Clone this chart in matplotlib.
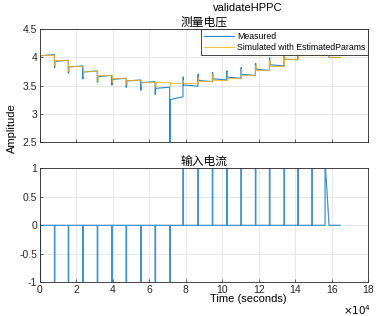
import matplotlib
matplotlib.use("Agg")
import matplotlib.pyplot as plt
import numpy as np

plt.rcParams['font.family'] = ['Liberation Sans', 'Noto Sans CJK SC']
plt.rcParams['font.size'] = 7.5

# pulse times (x 1e4 s) and current amplitude
pulse_t = [0, 0.79, 1.55, 2.34, 3.14, 3.93, 4.72, 5.52, 6.31, 7.11,
           7.84, 8.66, 9.45, 10.24, 11.02, 11.81, 12.58, 13.38, 14.13, 14.91, 15.63]
pulse_i = [-1] * 10 + [1] * 11

# measured voltage: value at end of pulse, level just after, level before next pulse
meas_peak = [3.93, 3.82, 3.72, 3.62, 3.56, 3.51, 3.47, 3.42, 3.34, 2.50,
             3.65, 3.70, 3.73, 3.76, 3.82, 3.89, 3.99, 4.05, 4.12, 4.12, 4.12]
meas_start = [4.03, 3.93, 3.83, 3.74, 3.66, 3.61, 3.58, 3.55, 3.45, 3.25,
              3.51, 3.59, 3.62, 3.65, 3.70, 3.79, 3.87, 3.97, 4.07, 4.07, 4.07]
meas_end = [4.05, 3.95, 3.85, 3.76, 3.68, 3.63, 3.60, 3.57, 3.47, 3.30,
            3.49, 3.57, 3.60, 3.63, 3.68, 3.77, 3.85, 3.96, 4.05, 4.05, 4.05]

# simulated voltage
sim_peak = [3.96, 3.86, 3.76, 3.67, 3.60, 3.56, 3.53, 3.49, 3.50, 3.50,
            3.60, 3.66, 3.70, 3.74, 3.79, 3.86, 3.95, 4.02, 4.10, 4.10, 4.10]
sim_level = [4.05, 3.95, 3.85, 3.76, 3.68, 3.63, 3.60, 3.57, 3.56, 3.55,
             3.55, 3.58, 3.60, 3.63, 3.68, 3.77, 3.85, 3.97, 4.05, 4.05, 4.05]

ramp_end_t = 15.85
end_t = 16.45
final_v = 4.0
pulse_w = 0.025


def voltage_path(peak, start, end):
    t, v = [], []
    for k, tp in enumerate(pulse_t):
        nxt = pulse_t[k + 1] if k + 1 < len(pulse_t) else ramp_end_t
        if k > 0:
            t.append(tp)
            v.append(end[k - 1])
        t += [tp, tp + pulse_w, tp + pulse_w, nxt]
        v += [peak[k], peak[k], start[k], end[k]]
    t += [ramp_end_t, end_t]
    v += [final_v, final_v]
    return np.array(t), np.array(v)


def current_path():
    t, i = [], []
    for k, tp in enumerate(pulse_t):
        if k == len(pulse_t) - 1:
            t += [tp, tp, tp + pulse_w, ramp_end_t, end_t]
            i += [0, pulse_i[k], pulse_i[k], 0, 0]
        else:
            t += [tp, tp, tp + pulse_w, tp + pulse_w]
            i += [0, pulse_i[k], pulse_i[k], 0]
    return np.array(t), np.array(i)


tm, vm = voltage_path(meas_peak, meas_start, meas_end)
ts, vs = voltage_path(sim_peak, sim_level, sim_level)
tc, ic = current_path()

blue = '#0072BD'
orange = '#EDB120'

fig = plt.figure(figsize=(3.82, 3.16), dpi=100)
ax1 = fig.add_axes([0.1047, 0.5516, 0.8594, 0.3554])
ax2 = fig.add_axes([0.1047, 0.1066, 0.8594, 0.3608])

ax1.plot(tm, vm, color=blue, lw=0.8, alpha=0.85, label='Measured')
ax1.plot(ts, vs, color=orange, lw=0.8, alpha=0.8, label='Simulated with EstimatedParams')
ax1.set_ylim(2.5, 4.5)
ax1.set_yticks([2.5, 3, 3.5, 4, 4.5])
ax1.set_yticklabels(['2.5', '3', '3.5', '4', '4.5'])
ax1.set_title('测量电压', fontsize=8.5, pad=2.5)
leg = ax1.legend(loc='upper right', fontsize=6.3, fancybox=False, framealpha=1,
                 edgecolor='#262626', borderaxespad=0, handlelength=3.4,
                 borderpad=0.3, labelspacing=0.25, handletextpad=0.4)
leg.get_frame().set_linewidth(0.6)

ax2.plot(tc, ic, color=blue, lw=0.9, alpha=0.75)
ax2.set_ylim(-1, 1)
ax2.set_yticks([-1, -0.5, 0, 0.5, 1])
ax2.set_yticklabels(['-1', '-0.5', '0', '0.5', '1'])
ax2.set_title('输入电流', fontsize=8.5, pad=2.5)

for ax in (ax1, ax2):
    ax.set_xlim(0, 18)
    ax.set_xticks(range(0, 19, 2))
    ax.grid(True, color='#e3e3e3', lw=0.6)
    ax.set_axisbelow(True)
    ax.tick_params(direction='in', length=2.5, width=0.5, colors='#262626',
                   labelsize=7.5, pad=2, top=False, right=False)
    for s in ax.spines.values():
        s.set_color('#262626')
        s.set_linewidth(0.6)
ax1.tick_params(labelbottom=False)

fig.text(248 / 382, 1 - 8 / 316, 'validateHPPC', ha='center', va='center', fontsize=8)
fig.text(248 / 382, 1 - 299 / 316, 'Time (seconds)', ha='center', va='center', fontsize=8)
fig.text(12 / 382, 1 - 128 / 316, 'Amplitude', ha='center', va='center', rotation=90, fontsize=8)
fig.text(357 / 382, 1 - 310 / 316, r'$\times10^4$', ha='center', va='center', fontsize=7.5)

fig.savefig('out.png', dpi=100)
